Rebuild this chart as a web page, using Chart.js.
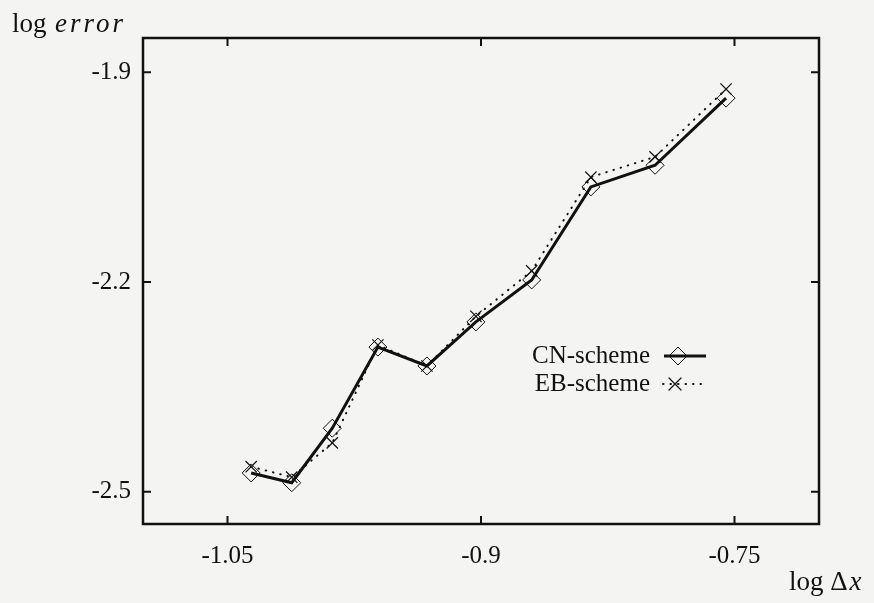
<!DOCTYPE html>
<html lang="en">
<head>
    <meta charset="UTF-8">
    <title>log error vs log dx</title>
    <script src="https://cdn.jsdelivr.net/npm/chart.js@4.4.0/dist/chart.umd.min.js"></script>
    <style>
        html, body { margin: 0; padding: 0; background: #f4f4f3; }
        #wrap { width: 874px; height: 603px; position: relative; }
    </style>
</head>
<body>
<div id="wrap"><canvas id="errChart" width="874" height="603"></canvas></div>

<script>
    // Datos
    const logDx = [-1.036, -1.012, -0.988, -0.961, -0.932, -0.903, -0.870, -0.835, -0.797, -0.755];
    const cnError = [-2.473, -2.487, -2.409, -2.293, -2.320, -2.257, -2.197, -2.064, -2.033, -1.937];
    const ebError = [-2.464, -2.479, -2.430, -2.290, -2.320, -2.249, -2.184, -2.050, -2.021, -1.924];
    const xTicks = [-1.05, -0.9, -0.75];
    const xTickLabels = ['-1.05', '-0.9', '-0.75'];
    const yTicks = [-2.5, -2.2, -1.9];
    const yTickLabels = ['-2.5', '-2.2', '-1.9'];
    const seriesNames = ['CN-scheme', 'EB-scheme'];
</script>

<script>
const FONT = '"Liberation Serif", "DejaVu Serif", serif';
const INK = '#111';

// marco, ticks hacia adentro, titulos y leyenda
const framePlugin = {
    id: 'frame',
    afterDraw(chart) {
        const { ctx, chartArea: a, scales } = chart;
        ctx.save();
        ctx.strokeStyle = INK;
        ctx.lineWidth = 2.5;
        ctx.strokeRect(a.left, a.top, a.right - a.left, a.bottom - a.top);

        const len = 8;
        ctx.lineWidth = 2;
        ctx.beginPath();
        xTicks.forEach(v => {
            const px = scales.x.getPixelForValue(v);
            ctx.moveTo(px, a.bottom); ctx.lineTo(px, a.bottom - len);
            ctx.moveTo(px, a.top); ctx.lineTo(px, a.top + len);
        });
        yTicks.forEach(v => {
            const py = scales.y.getPixelForValue(v);
            ctx.moveTo(a.left, py); ctx.lineTo(a.left + len, py);
            ctx.moveTo(a.right, py); ctx.lineTo(a.right - len, py);
        });
        ctx.stroke();

        // titulos de ejes
        ctx.fillStyle = INK;
        ctx.textBaseline = 'alphabetic';
        ctx.textAlign = 'left';
        ctx.font = '27px ' + FONT;
        ctx.fillText('log', 12, 32);
        ctx.font = 'italic 27px ' + FONT;
        ctx.letterSpacing = '3px';
        ctx.fillText('error', 55, 32);
        ctx.letterSpacing = '0px';
        ctx.font = '27px ' + FONT;
        ctx.fillText('log \u0394', 789, 590);
        const w = ctx.measureText('log \u0394').width;
        ctx.font = 'italic 27px ' + FONT;
        ctx.fillText('x', 791 + w, 590);

        // leyenda
        ctx.font = '25px ' + FONT;
        ctx.textAlign = 'right';
        ctx.textBaseline = 'middle';
        const lx = 650, ly1 = 356, ly2 = 384;
        ctx.fillText(seriesNames[0], lx, ly1);
        ctx.fillText(seriesNames[1], lx, ly2);

        ctx.lineWidth = 3;
        ctx.beginPath();
        ctx.moveTo(664, ly1); ctx.lineTo(706, ly1);
        ctx.stroke();
        ctx.lineWidth = 1;
        ctx.beginPath();
        ctx.moveTo(678, ly1 - 9); ctx.lineTo(687, ly1); ctx.lineTo(678, ly1 + 9); ctx.lineTo(669, ly1); ctx.closePath();
        ctx.stroke();

        ctx.lineWidth = 2;
        ctx.setLineDash([0.5, 7]);
        ctx.lineCap = 'round';
        ctx.beginPath();
        ctx.moveTo(663, ly2); ctx.lineTo(708, ly2);
        ctx.stroke();
        ctx.setLineDash([]);
        ctx.lineWidth = 1.2;
        ctx.beginPath();
        ctx.moveTo(669, ly2 - 6); ctx.lineTo(681, ly2 + 6);
        ctx.moveTo(681, ly2 - 6); ctx.lineTo(669, ly2 + 6);
        ctx.stroke();
        ctx.restore();
    }
};

document.addEventListener('DOMContentLoaded', function() {
    const ctx = document.getElementById('errChart').getContext('2d');
    new Chart(ctx, {
        type: 'scatter',
        data: {
            datasets: [
                {
                    label: seriesNames[0],
                    data: logDx.map((x, i) => ({ x: x, y: cnError[i] })),
                    showLine: true,
                    borderColor: INK,
                    borderWidth: 3,
                    pointStyle: 'rectRot',
                    pointRadius: 9,
                    pointBorderWidth: 1,
                    pointBorderColor: INK,
                    pointBackgroundColor: 'rgba(0,0,0,0)'
                },
                {
                    label: seriesNames[1],
                    data: logDx.map((x, i) => ({ x: x, y: ebError[i] })),
                    showLine: true,
                    borderColor: INK,
                    borderWidth: 2,
                    borderDash: [0.5, 7],
                    borderCapStyle: 'round',
                    pointStyle: 'crossRot',
                    pointRadius: 8,
                    pointBorderWidth: 1.2,
                    pointBorderColor: INK
                }
            ]
        },
        options: {
            responsive: false,
            animation: false,
            layout: { padding: { top: 38, right: 55, left: 0, bottom: 0 } },
            plugins: { legend: { display: false }, tooltip: { enabled: false } },
            scales: {
                x: {
                    type: 'linear',
                    min: -1.10, max: -0.70,
                    afterBuildTicks: s => { s.ticks = xTicks.map(v => ({ value: v })); },
                    afterFit: s => { s.height = 79; },
                    grid: { display: false, drawTicks: false },
                    border: { display: false },
                    ticks: {
                        padding: 17,
                        color: INK,
                        font: { family: FONT, size: 25 },
                        callback: (v) => xTickLabels[xTicks.indexOf(v)]
                    }
                },
                y: {
                    type: 'linear',
                    min: -2.546, max: -1.851,
                    afterBuildTicks: s => { s.ticks = yTicks.map(v => ({ value: v })); },
                    afterFit: s => { s.width = 143; },
                    grid: { display: false, drawTicks: false },
                    border: { display: false },
                    ticks: {
                        padding: 12,
                        color: INK,
                        font: { family: FONT, size: 25 },
                        callback: (v) => yTickLabels[yTicks.indexOf(v)]
                    }
                }
            }
        },
        plugins: [framePlugin]
    });
});
</script>
</body>
</html>
